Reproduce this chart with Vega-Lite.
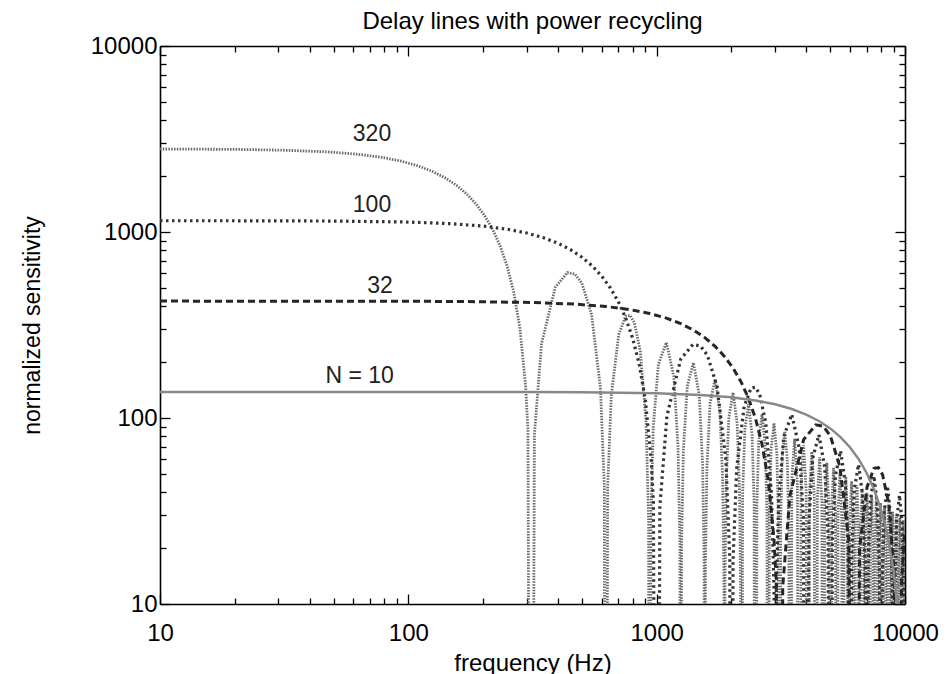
{
  "$schema": "https://vega.github.io/schema/vega-lite/v6.json",
  "autosize": {"type": "none"},
  "width": 745,
  "height": 558,
  "padding": {"left": 160, "top": 46, "right": 42, "bottom": 70},
  "background": "white",
  "config": {
    "view": {"stroke": null},
    "font": "Liberation Sans",
    "axis": {"grid": false}
  },
  "title": {"text": "Delay lines with power recycling", "fontSize": 24, "fontWeight": "normal", "font": "Liberation Sans", "color": "black", "anchor": "middle", "offset": 0},
  "datasets": {
    "n320": [
      {"f":10,"v":2795},{"f":20,"v":2781},{"f":31.25,"v":2754},{"f":46.875,"v":2698},{"f":62.5,"v":2619},{"f":78.125,"v":2521},{"f":93.75,"v":2403},{"f":109.4,"v":2269},{"f":125,"v":2119},{"f":140.6,"v":1956},{"f":156.25,"v":1783},{"f":171.9,"v":1600},{"f":187.5,"v":1413},{"f":203.1,"v":1222},{"f":218.75,"v":1030},{"f":234.4,"v":840},{"f":250,"v":655},{"f":265.6,"v":476},{"f":281.25,"v":306},{"f":296.9,"v":147},{"f":303.1,"v":86.5},{"f":312.5,"v":0.001},
      {"f":321.9,"v":81.4},{"f":343.75,"v":250.4},{"f":390.6,"v":504.2},{"f":437.5,"v":605.5},{"f":468.75,"v":594.2},{"f":500,"v":529.8},{"f":546.9,"v":360.1},{"f":593.75,"v":145.0},{"f":615.6,"v":42.6},{"f":625,"v":0.001},
      {"f":634.4,"v":41.3},{"f":656.25,"v":131.2},{"f":703.1,"v":280.1},{"f":750,"v":353.2},{"f":781.25,"v":356.5},{"f":812.5,"v":326.0},{"f":859.4,"v":229.2},{"f":906.25,"v":95.0},{"f":928.1,"v":28.2},{"f":937.5,"v":0.001},
      {"f":946.9,"v":27.7},{"f":968.75,"v":88.85},{"f":1015.6,"v":193.9},{"f":1093.75,"v":254.65},{"f":1171.9,"v":168.1},{"f":1218.75,"v":70.6},{"f":1240.6,"v":21.1},{"f":1250,"v":0.001},
      {"f":1259.4,"v":20.8},{"f":1281.25,"v":67.2},{"f":1328.1,"v":148.3},{"f":1406.25,"v":198.1},{"f":1484.4,"v":132.7},{"f":1531.25,"v":56.2},{"f":1553.1,"v":16.9},{"f":1562.5,"v":0.001},
      {"f":1571.9,"v":16.7},{"f":1593.75,"v":54.0},{"f":1640.6,"v":120.05},{"f":1718.75,"v":162.05},{"f":1796.9,"v":109.6},{"f":1843.75,"v":46.7},{"f":1865.6,"v":14.05},{"f":1875,"v":0.001},
      {"f":1884.4,"v":13.9},{"f":1906.25,"v":45.15},{"f":1953.1,"v":100.8},{"f":2031.25,"v":137.1},{"f":2109.4,"v":93.4},{"f":2156.25,"v":39.9},{"f":2178.1,"v":12.0},{"f":2187.5,"v":0.001},
      {"f":2218.75,"v":38.8},{"f":2265.6,"v":86.9},{"f":2343.75,"v":118.8},{"f":2421.9,"v":81.3},{"f":2468.75,"v":34.9},{"f":2500,"v":0.001},
      {"f":2531.25,"v":34.0},{"f":2578.1,"v":76.4},{"f":2656.25,"v":104.9},{"f":2734.4,"v":72.0},{"f":2781.25,"v":30.9},{"f":2812.5,"v":0.001},
      {"f":2843.75,"v":30.3},{"f":2890.6,"v":68.1},{"f":2968.75,"v":93.8},{"f":3046.9,"v":64.6},{"f":3093.75,"v":27.8},{"f":3125,"v":0.001},
      {"f":3156.25,"v":27.3},{"f":3203.1,"v":61.5},{"f":3281.25,"v":84.9},{"f":3359.4,"v":58.6},{"f":3406.25,"v":25.3},{"f":3437.5,"v":0.001},
      {"f":3500,"v":46.8},{"f":3593.75,"v":77.5},{"f":3687.5,"v":44.4},{"f":3750,"v":0.001},
      {"f":3812.5,"v":42.9},{"f":3906.25,"v":71.3},{"f":4000,"v":40.9},{"f":4062.5,"v":0.001},
      {"f":4125,"v":39.7},{"f":4218.75,"v":66.0},{"f":4312.5,"v":38.0},{"f":4375,"v":0.001},
      {"f":4437.5,"v":36.9},{"f":4531.25,"v":61.5},{"f":4625,"v":35.4},{"f":4687.5,"v":0.001},
      {"f":4750,"v":34.5},{"f":4843.75,"v":57.5},{"f":4937.5,"v":33.2},{"f":5000,"v":0.001},
      {"f":5062.5,"v":32.3},{"f":5156.25,"v":54.0},{"f":5250,"v":31.2},{"f":5312.5,"v":0.001},
      {"f":5375,"v":30.5},{"f":5468.75,"v":50.9},{"f":5562.5,"v":29.4},{"f":5625,"v":0.001},
      {"f":5687.5,"v":28.8},{"f":5781.25,"v":48.2},{"f":5875,"v":27.9},{"f":5937.5,"v":0.001},
      {"f":6000,"v":27.3},{"f":6093.75,"v":45.7},{"f":6187.5,"v":26.5},{"f":6250,"v":0.001},
      {"f":6312.5,"v":25.9},{"f":6406.25,"v":43.5},{"f":6500,"v":25.2},{"f":6562.5,"v":0.001},
      {"f":6625,"v":24.7},{"f":6718.75,"v":41.5},{"f":6812.5,"v":24.0},{"f":6875,"v":0.001},
      {"f":6937.5,"v":23.6},{"f":7031.25,"v":39.6},{"f":7125,"v":23.0},{"f":7187.5,"v":0.001},
      {"f":7250,"v":22.6},{"f":7343.75,"v":37.9},{"f":7437.5,"v":22.0},{"f":7500,"v":0.001},
      {"f":7562.5,"v":21.6},{"f":7656.25,"v":36.4},{"f":7750,"v":21.1},{"f":7812.5,"v":0.001},
      {"f":7875,"v":20.8},{"f":7968.75,"v":34.95},{"f":8062.5,"v":20.3},{"f":8125,"v":0.001},
      {"f":8187.5,"v":20.0},{"f":8281.25,"v":33.6},{"f":8375,"v":19.5},{"f":8437.5,"v":0.001},
      {"f":8500,"v":19.3},{"f":8593.75,"v":32.4},{"f":8687.5,"v":18.8},{"f":8750,"v":0.001},
      {"f":8812.5,"v":18.6},{"f":8906.25,"v":31.3},{"f":9000,"v":18.2},{"f":9062.5,"v":0.001},
      {"f":9125,"v":17.9},{"f":9218.75,"v":30.2},{"f":9312.5,"v":17.6},{"f":9375,"v":0.001},
      {"f":9437.5,"v":17.35},{"f":9531.25,"v":29.2},{"f":9625,"v":17.0},{"f":9687.5,"v":0.001},
      {"f":9750,"v":16.8},{"f":9843.75,"v":28.3},{"f":9937.5,"v":16.5},{"f":10000,"v":0.001}
    ],
    "n100": [
      {"f":10,"v":1149.8},{"f":20,"v":1149.2},{"f":50,"v":1145.3},{"f":100,"v":1131.2},{"f":150,"v":1107.9},{"f":200,"v":1075.8},{"f":250,"v":1035.4},{"f":300,"v":987.1},{"f":350,"v":931.9},{"f":400,"v":870.4},{"f":450,"v":803.4},{"f":500,"v":732.1},{"f":550,"v":657.4},{"f":600,"v":580.2},{"f":650,"v":501.8},{"f":700,"v":423.1},{"f":750,"v":345.1},{"f":800,"v":269.0},{"f":850,"v":195.5},{"f":900,"v":125.7},{"f":950,"v":60.3},{"f":970,"v":35.5},{"f":1000,"v":0.001},
      {"f":1030,"v":33.4},{"f":1100,"v":102.8},{"f":1250,"v":207.1},{"f":1400,"v":248.7},{"f":1500,"v":244.0},{"f":1600,"v":217.6},{"f":1750,"v":147.9},{"f":1900,"v":59.5},{"f":1970,"v":17.5},{"f":2000,"v":0.001},
      {"f":2030,"v":17.0},{"f":2100,"v":53.9},{"f":2250,"v":115.0},{"f":2400,"v":145.1},{"f":2500,"v":146.4},{"f":2600,"v":133.9},{"f":2750,"v":94.1},{"f":2900,"v":39.0},{"f":2970,"v":11.6},{"f":3000,"v":0.001},
      {"f":3030,"v":11.4},{"f":3100,"v":36.5},{"f":3250,"v":79.6},{"f":3500,"v":104.6},{"f":3750,"v":69.0},{"f":3900,"v":29.0},{"f":4000,"v":0.001},
      {"f":4100,"v":27.6},{"f":4250,"v":60.9},{"f":4500,"v":81.3},{"f":4750,"v":54.5},{"f":4900,"v":23.1},{"f":5000,"v":0.001},
      {"f":5100,"v":22.2},{"f":5250,"v":49.3},{"f":5500,"v":66.6},{"f":5750,"v":45.0},{"f":5900,"v":19.2},{"f":6000,"v":0.001},
      {"f":6100,"v":18.5},{"f":6250,"v":41.4},{"f":6500,"v":56.3},{"f":6750,"v":38.3},{"f":6900,"v":16.4},{"f":7000,"v":0.001},
      {"f":7100,"v":15.9},{"f":7250,"v":35.7},{"f":7500,"v":48.8},{"f":7750,"v":33.4},{"f":7900,"v":14.3},{"f":8000,"v":0.001},
      {"f":8100,"v":14.0},{"f":8250,"v":31.4},{"f":8500,"v":43.1},{"f":8750,"v":29.6},{"f":8900,"v":12.7},{"f":9000,"v":0.001},
      {"f":9100,"v":12.4},{"f":9250,"v":28.0},{"f":9500,"v":38.5},{"f":9750,"v":26.5},{"f":9900,"v":11.4},{"f":10000,"v":0.001}
    ],
    "n32": [
      {"f":10,"v":425.0},{"f":31.25,"v":424.9},{"f":62.5,"v":424.7},{"f":156.25,"v":423.3},{"f":312.5,"v":418.0},{"f":468.75,"v":409.4},{"f":625,"v":397.6},{"f":781.25,"v":382.6},{"f":937.5,"v":364.8},{"f":1093.75,"v":344.4},{"f":1250,"v":321.65},{"f":1406.25,"v":296.9},{"f":1562.5,"v":270.6},{"f":1718.75,"v":242.9},{"f":1875,"v":214.4},{"f":2031.25,"v":185.4},{"f":2187.5,"v":156.4},{"f":2343.75,"v":127.5},{"f":2500,"v":99.4},{"f":2656.25,"v":72.3},{"f":2812.5,"v":46.4},{"f":2968.75,"v":22.3},{"f":3031.25,"v":13.1},{"f":3125,"v":0.001},
      {"f":3218.75,"v":12.4},{"f":3437.5,"v":38.0},{"f":3906.25,"v":76.5},{"f":4375,"v":91.9},{"f":4687.5,"v":90.2},{"f":5000,"v":80.4},{"f":5468.75,"v":54.7},{"f":5937.5,"v":22.0},{"f":6250,"v":0.001},
      {"f":6562.5,"v":19.9},{"f":7031.25,"v":42.5},{"f":7500,"v":53.6},{"f":7812.5,"v":54.1},{"f":8125,"v":49.5},{"f":8593.75,"v":34.8},{"f":9062.5,"v":14.4},{"f":9375,"v":0.001},
      {"f":9687.5,"v":13.5},{"f":10000,"v":24.85}
    ],
    "n10": [
      {"f":10,"v":138.0},{"f":100,"v":138.0},{"f":300,"v":137.8},{"f":500,"v":137.4},{"f":1000,"v":135.7},{"f":1500,"v":132.95},{"f":2000,"v":129.1},{"f":2500,"v":124.2},{"f":3000,"v":118.5},{"f":3500,"v":111.8},{"f":4000,"v":104.4},{"f":4500,"v":96.4},{"f":5000,"v":87.9},{"f":5500,"v":78.9},{"f":6000,"v":69.6},{"f":6500,"v":60.2},{"f":7000,"v":50.8},{"f":7500,"v":41.4},{"f":8000,"v":32.3},{"f":8500,"v":23.5},{"f":9000,"v":15.1},{"f":9500,"v":7.2},{"f":9700,"v":4.3},{"f":10000,"v":0.001}
    ],
    "labels": [
      {"f":71.4,"v":3350,"label":"320"},
      {"f":71.4,"v":1400,"label":"100"},
      {"f":76.9,"v":513,"label":"32"},
      {"f":63.7,"v":168,"label":"N = 10"}
    ]
  },
  "layer": [
    {
      "data": {"name": "n320"},
      "mark": {"type": "line", "clip": true, "color": "#6a6a6a", "strokeWidth": 2.8, "strokeDash": [1.5, 1.3]},
      "encoding": {
        "x": {"field": "f", "type": "quantitative", "scale": {"type": "log", "domain": [10, 10000], "nice": false},
          "axis": {"orient": "bottom", "title": "frequency (Hz)", "values": [10,20,30,40,50,60,70,80,90,100,200,300,400,500,600,700,800,900,1000,2000,3000,4000,5000,6000,7000,8000,9000,10000],
            "labelExpr": "(datum.value==10||datum.value==100||datum.value==1000||datum.value==10000) ? format(datum.value,'d') : ''",
            "labelOverlap": false, "labelFlush": false, "labelFontSize": 24, "labelColor": "black", "labelFont": "Liberation Sans", "labelPadding": 27,
            "tickSize": {"condition": {"test": "datum.value==10||datum.value==100||datum.value==1000||datum.value==10000", "value": -10}, "value": -6},
            "tickColor": "black", "tickWidth": 1.3, "domainColor": "black", "domainWidth": 1.6,
            "titleFontSize": 24, "titleFontWeight": "normal", "titleColor": "black", "titleFont": "Liberation Sans", "titlePadding": 2}},
        "y": {"field": "v", "type": "quantitative", "scale": {"type": "log", "domain": [10, 10000], "nice": false},
          "axis": {"orient": "left", "title": "normalized sensitivity", "values": [10,20,30,40,50,60,70,80,90,100,200,300,400,500,600,700,800,900,1000,2000,3000,4000,5000,6000,7000,8000,9000,10000],
            "labelExpr": "(datum.value==10||datum.value==100||datum.value==1000||datum.value==10000) ? format(datum.value,'d') : ''",
            "labelOverlap": false, "labelFlush": false, "labelFontSize": 24, "labelColor": "black", "labelFont": "Liberation Sans", "labelPadding": 13,
            "tickSize": {"condition": {"test": "datum.value==10||datum.value==100||datum.value==1000||datum.value==10000", "value": -10}, "value": -6},
            "tickColor": "black", "tickWidth": 1.3, "domainColor": "black", "domainWidth": 1.6,
            "titleFontSize": 23, "titleFontWeight": "normal", "titleColor": "black", "titleFont": "Liberation Sans", "titlePadding": 46}}
      }
    },
    {
      "data": {"name": "n100"},
      "mark": {"type": "line", "clip": true, "color": "#333333", "strokeWidth": 3.2, "strokeDash": [2.5, 3.5]},
      "encoding": {
        "x": {"field": "f", "type": "quantitative", "scale": {"type": "log", "domain": [10, 10000], "nice": false}, "axis": null},
        "y": {"field": "v", "type": "quantitative", "scale": {"type": "log", "domain": [10, 10000], "nice": false}, "axis": null}
      }
    },
    {
      "data": {"name": "n32"},
      "mark": {"type": "line", "clip": true, "color": "#262626", "strokeWidth": 3, "strokeDash": [7, 4]},
      "encoding": {
        "x": {"field": "f", "type": "quantitative", "scale": {"type": "log", "domain": [10, 10000], "nice": false}, "axis": null},
        "y": {"field": "v", "type": "quantitative", "scale": {"type": "log", "domain": [10, 10000], "nice": false}, "axis": null}
      }
    },
    {
      "data": {"name": "n10"},
      "mark": {"type": "line", "clip": true, "color": "#888888", "strokeWidth": 2.5},
      "encoding": {
        "x": {"field": "f", "type": "quantitative", "scale": {"type": "log", "domain": [10, 10000], "nice": false}, "axis": null},
        "y": {"field": "v", "type": "quantitative", "scale": {"type": "log", "domain": [10, 10000], "nice": false}, "axis": null}
      }
    },
    {
      "data": {"name": "labels"},
      "mark": {"type": "text", "fontSize": 23, "font": "Liberation Sans", "color": "#222222", "baseline": "middle", "align": "center"},
      "encoding": {
        "x": {"field": "f", "type": "quantitative", "scale": {"type": "log", "domain": [10, 10000], "nice": false},
          "axis": {"orient": "top", "title": null, "labels": false, "values": [10,20,30,40,50,60,70,80,90,100,200,300,400,500,600,700,800,900,1000,2000,3000,4000,5000,6000,7000,8000,9000,10000],
            "tickSize": {"condition": {"test": "datum.value==10||datum.value==100||datum.value==1000||datum.value==10000", "value": -10}, "value": -6},
            "tickColor": "black", "tickWidth": 1.3, "domainColor": "black", "domainWidth": 1.6}},
        "y": {"field": "v", "type": "quantitative", "scale": {"type": "log", "domain": [10, 10000], "nice": false},
          "axis": {"orient": "right", "title": null, "labels": false, "values": [10,20,30,40,50,60,70,80,90,100,200,300,400,500,600,700,800,900,1000,2000,3000,4000,5000,6000,7000,8000,9000,10000],
            "tickSize": {"condition": {"test": "datum.value==10||datum.value==100||datum.value==1000||datum.value==10000", "value": -10}, "value": -6},
            "tickColor": "black", "tickWidth": 1.3, "domainColor": "black", "domainWidth": 1.6}},
        "text": {"field": "label", "type": "nominal"}
      }
    }
  ],
  "resolve": {"axis": {"x": "independent", "y": "independent"}}
}
